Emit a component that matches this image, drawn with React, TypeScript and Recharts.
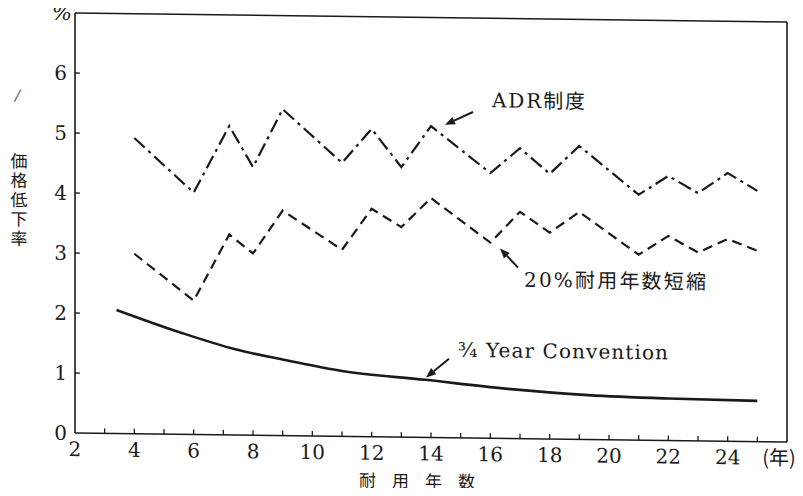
import React from 'react';
import { LineChart, Line, XAxis, YAxis, ReferenceLine } from 'recharts';

// 耐用年数 (years) and 価格低下率 (%)
const adrYears = [4, 6, 7.2, 8, 9, 11, 12, 13, 14, 16, 17, 18, 19, 21, 22, 23, 24, 25];
const adrRates = [4.93, 4.03, 5.15, 4.47, 5.44, 4.56, 5.13, 4.5, 5.19, 4.42, 4.84, 4.42, 4.89, 4.09, 4.41, 4.13, 4.47, 4.18];

const shortYears = [4, 6, 7.2, 8, 9, 11, 12, 13, 14, 16, 17, 18, 19, 21, 22, 23, 24, 25];
const shortRates = [3.0, 2.23, 3.34, 3.03, 3.75, 3.11, 3.8, 3.5, 3.99, 3.26, 3.78, 3.44, 3.79, 3.09, 3.41, 3.14, 3.37, 3.18];

const convYears = [3.4, 5.6, 7.4, 9.2, 11, 13.8, 16.5, 19.3, 22, 25];
const convRates = [2.06, 1.69, 1.43, 1.25, 1.09, 0.96, 0.83, 0.74, 0.7, 0.68];

const xTicks = [2, 3, 4, 5, 6, 7, 8, 9, 10, 11, 12, 13, 14, 15, 16, 17, 18, 19, 20, 21, 22, 23, 24, 25, 26];
const yTicks = [0, 1, 2, 3, 4, 5, 6, 7];
const yearUnit = '(年)';
const percentSign = '%';
const yTitle = '価格低下率';
const xTitle = '耐用年数';

const toRows = (xs: number[], ys: number[]) => xs.map((year, i) => ({ year, rate: ys[i] }));

const adrData = toRows(adrYears, adrRates);
const shortData = toRows(shortYears, shortRates);
const convData = toRows(convYears, convRates);

const INK = '#1a1a1a';
const SERIF = 'DejaVu Serif, Noto Sans CJK JP';
const CJK = 'Noto Sans CJK JP';

const XTick = (props: any) => {
  const { x, y, payload } = props;
  const v = payload.value;
  const label = v === 26 ? yearUnit : v % 2 === 0 ? String(v) : '';
  return (
    <g>
      {v > 2 && v < 26 && <line x1={x} y1={y} x2={x} y2={y - 5} stroke={INK} strokeWidth={1.3} />}
      {label && (
        <text
          x={v === 26 ? x - 8 : x}
          y={y + 23}
          textAnchor="middle"
          fontFamily={v === 26 ? CJK : SERIF}
          fontSize={20}
          fill={INK}
        >
          {label}
        </text>
      )}
    </g>
  );
};

const YTick = (props: any) => {
  const { x, y, payload } = props;
  const v = payload.value;
  const label = v === 7 ? percentSign : String(v);
  return (
    <g>
      {v > 0 && v < 7 && <line x1={x} y1={y} x2={x + 5} y2={y} stroke={INK} strokeWidth={1.3} />}
      <text
        x={v === 7 ? x - 3 : x - 8}
        y={y + 7}
        textAnchor="end"
        fontFamily={SERIF}
        fontSize={v === 7 ? 21 : 20}
        fontStyle={v === 7 ? 'italic' : 'normal'}
        fill={INK}
      >
        {label}
      </text>
    </g>
  );
};

const Arrow = ({ x1, y1, x2, y2 }: { x1: number; y1: number; x2: number; y2: number }) => {
  const a = Math.atan2(y2 - y1, x2 - x1);
  const len = 10;
  const half = 4;
  const bx = x2 - len * Math.cos(a);
  const by = y2 - len * Math.sin(a);
  const px = -Math.sin(a) * half;
  const py = Math.cos(a) * half;
  return (
    <g>
      <line x1={x1} y1={y1} x2={bx} y2={by} stroke={INK} strokeWidth={2} />
      <polygon points={`${x2},${y2} ${bx + px},${by + py} ${bx - px},${by - py}`} fill={INK} />
    </g>
  );
};

const Annotations = () => (
  <svg
    width={803}
    height={496}
    style={{ position: 'absolute', left: 0, top: 0, pointerEvents: 'none' }}
  >
    {/* scan mark next to the axis title */}
    <text x={15} y={101} fontFamily={SERIF} fontSize={15} fontStyle="italic" fill="#555">/</text>

    <text
      x={19}
      y={153}
      fontFamily={CJK}
      fontSize={17}
      letterSpacing={2.4}
      fill={INK}
      style={{ writingMode: 'vertical-rl' }}
    >
      {yTitle}
    </text>

    <text x={359} y={483} fontFamily={CJK} fontSize={17} letterSpacing={16} fill={INK}>
      {xTitle}
    </text>

    <text x={492} y={102} textLength={93} lengthAdjust="spacing" fill={INK} fontFamily={SERIF} fontSize={20}>
      ADR制度
    </text>
    <Arrow x1={473} y1={107} x2={445} y2={120} />

    <text x={524} y={281} textLength={182} lengthAdjust="spacing" fill={INK} fontFamily={SERIF} fontSize={20}>
      20%耐用年数短縮
    </text>
    <Arrow x1={518} y1={262} x2={500} y2={243} />

    <text x={458} y={352} textLength={210} lengthAdjust="spacing" fill={INK} fontFamily={SERIF} fontSize={20}>
      ¾ Year Convention
    </text>
    <Arrow x1={449} y1={354} x2={426} y2={373} />
  </svg>
);

export default function App() {
  return (
    <div
      style={{
        position: 'relative',
        width: 803,
        height: 496,
        margin: -8,
        background: '#fff',
        transform: 'skewY(0.725deg)',
        transformOrigin: '75px 0',
      }}
    >
      <LineChart width={803} height={496} margin={{ top: 13, right: 16, left: 0, bottom: 0 }}>
        <XAxis
          type="number"
          dataKey="year"
          domain={[2, 26]}
          ticks={xTicks}
          interval={0}
          height={63}
          tickSize={0}
          tickMargin={0}
          tick={XTick}
          axisLine={{ stroke: INK, strokeWidth: 1.6 }}
          allowDataOverflow
        />
        <YAxis
          type="number"
          domain={[0, 7]}
          ticks={yTicks}
          interval={0}
          width={75}
          tickSize={0}
          tickMargin={0}
          tick={YTick}
          axisLine={{ stroke: INK, strokeWidth: 1.6 }}
          allowDataOverflow
        />
        <ReferenceLine y={7} stroke={INK} strokeWidth={1.6} />
        <ReferenceLine x={26} stroke={INK} strokeWidth={1.6} />
        <Line
          data={adrData}
          dataKey="rate"
          type="linear"
          stroke={INK}
          strokeWidth={2.2}
          strokeDasharray="14 5 3 5"
          dot={false}
          isAnimationActive={false}
        />
        <Line
          data={shortData}
          dataKey="rate"
          type="linear"
          stroke={INK}
          strokeWidth={2.2}
          strokeDasharray="10 6"
          dot={false}
          isAnimationActive={false}
        />
        <Line
          data={convData}
          dataKey="rate"
          type="monotone"
          stroke={INK}
          strokeWidth={2.6}
          dot={false}
          isAnimationActive={false}
        />
      </LineChart>
      <Annotations />
    </div>
  );
}
